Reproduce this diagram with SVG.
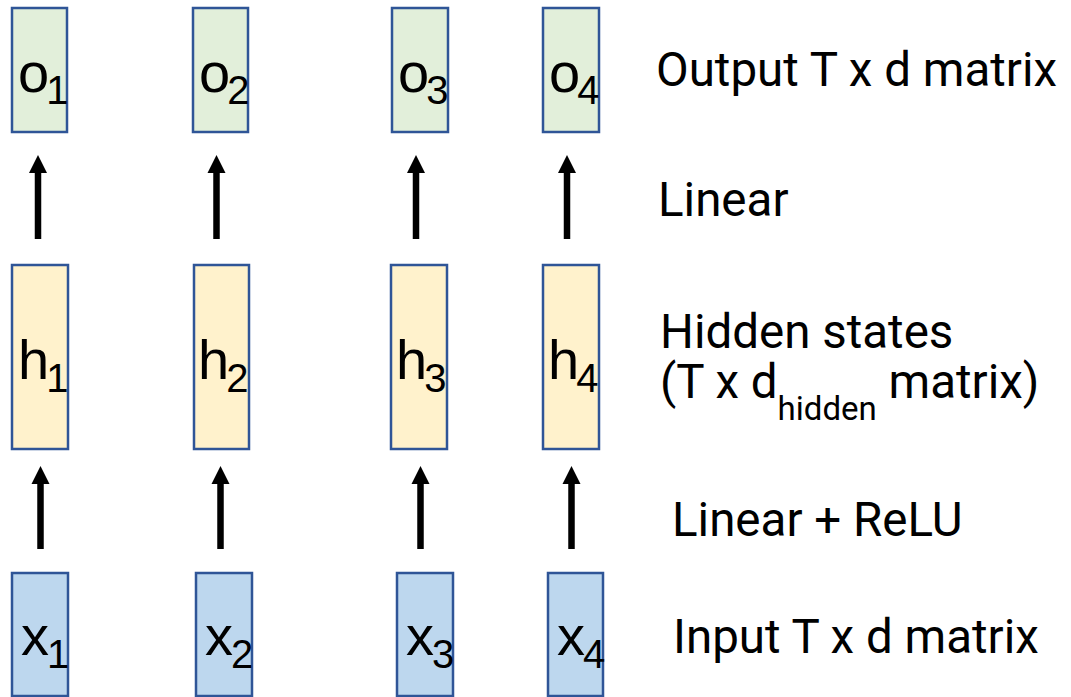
<svg xmlns="http://www.w3.org/2000/svg" width="1071" height="697" viewBox="0 0 1071 697">
  <style>
    .box { stroke: #2f5597; stroke-width: 2.5; }
    .out { fill: #e2efda; }
    .hid { fill: #fff2cc; }
    .inp { fill: #bdd7ee; }
    .sym { font-family: "Liberation Sans", Arial, sans-serif; font-size: 56px; fill: #000; }
    .sub { font-size: 40px; }
    .lbl { font-family: Roboto, "Liberation Sans", sans-serif; font-size: 47.5px; fill: #000; }
    .arr { stroke: #000; stroke-width: 6.5; fill: none; marker-end: url(#head); }
  </style>
  <defs>
    <marker id="head" markerUnits="userSpaceOnUse" markerWidth="20" markerHeight="20" viewBox="0 0 20 20" refX="0" refY="10" orient="auto">
      <path d="M0,1 L18,10 L0,19 Z" fill="#000"/>
    </marker>
  </defs>
  <rect width="1071" height="697" fill="#fff"/>

  <!-- connectors: x -> h (Linear + ReLU), h -> o (Linear) -->
  <g id="connectors">
    <line class="arr" x1="40.5" y1="549" x2="40.5" y2="484"/>
    <line class="arr" x1="220.5" y1="549" x2="220.5" y2="484"/>
    <line class="arr" x1="420.5" y1="549" x2="420.5" y2="484"/>
    <line class="arr" x1="571.5" y1="549" x2="571.5" y2="484"/>
    <line class="arr" x1="38" y1="239" x2="38" y2="173"/>
    <line class="arr" x1="216.5" y1="239" x2="216.5" y2="173"/>
    <line class="arr" x1="416" y1="239" x2="416" y2="173"/>
    <line class="arr" x1="567" y1="239" x2="567" y2="173"/>
  </g>

  <!-- output row -->
  <g id="o1"><rect class="box out" x="12" y="8" width="55" height="124"/><text class="sym" x="18" y="92">o<tspan class="sub" dx="-3" dy="12">1</tspan></text></g>
  <g id="o2"><rect class="box out" x="193" y="8" width="55" height="124"/><text class="sym" x="199" y="92">o<tspan class="sub" dx="-3" dy="12">2</tspan></text></g>
  <g id="o3"><rect class="box out" x="392" y="8" width="56" height="124"/><text class="sym" x="398" y="92">o<tspan class="sub" dx="-3" dy="12">3</tspan></text></g>
  <g id="o4"><rect class="box out" x="543" y="8" width="56" height="124"/><text class="sym" x="549" y="92">o<tspan class="sub" dx="-3" dy="12">4</tspan></text></g>

  <!-- hidden row -->
  <g id="h1"><rect class="box hid" x="12" y="265" width="56" height="184"/><text class="sym" x="18" y="379">h<tspan class="sub" dx="-3" dy="13">1</tspan></text></g>
  <g id="h2"><rect class="box hid" x="194" y="265" width="55" height="184"/><text class="sym" x="198" y="379">h<tspan class="sub" dx="-3" dy="13">2</tspan></text></g>
  <g id="h3"><rect class="box hid" x="391" y="265" width="56" height="184"/><text class="sym" x="396" y="379">h<tspan class="sub" dx="-3" dy="13">3</tspan></text></g>
  <g id="h4"><rect class="box hid" x="543" y="265" width="56" height="184"/><text class="sym" x="548" y="379">h<tspan class="sub" dx="-3" dy="13">4</tspan></text></g>

  <!-- input row -->
  <g id="x1"><rect class="box inp" x="12" y="573" width="56" height="123"/><text class="sym" x="21" y="655">x<tspan class="sub" dx="-2" dy="13">1</tspan></text></g>
  <g id="x2"><rect class="box inp" x="196" y="573" width="56" height="123"/><text class="sym" x="205" y="655">x<tspan class="sub" dx="-2" dy="13">2</tspan></text></g>
  <g id="x3"><rect class="box inp" x="397" y="573" width="56" height="123"/><text class="sym" x="406" y="655">x<tspan class="sub" dx="-2" dy="13">3</tspan></text></g>
  <g id="x4"><rect class="box inp" x="548" y="573" width="55" height="123"/><text class="sym" x="557" y="655">x<tspan class="sub" dx="-2" dy="13">4</tspan></text></g>

  <!-- row captions -->
  <g id="captions">
    <text class="lbl" x="656" y="86">Output T x d matrix</text>
    <text class="lbl" x="658" y="216">Linear</text>
    <text class="lbl" x="660" y="348">Hidden states</text>
    <text class="lbl" x="660" y="398">(T x d<tspan font-size="33" dy="22">hidden</tspan><tspan dy="-22"> matrix)</tspan></text>
    <text class="lbl" x="672" y="536">Linear + ReLU</text>
    <text class="lbl" x="673" y="653">Input T x d matrix</text>
  </g>
</svg>
